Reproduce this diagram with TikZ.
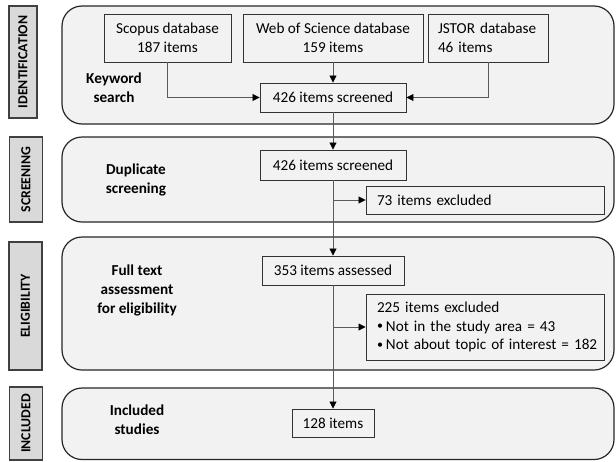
\documentclass[tikz,border=0pt]{standalone}
\usepackage{fontspec}
\setmainfont{Carlito}
\usetikzlibrary{arrows.meta}
\definecolor{panelfill}{HTML}{F2F2F2}
\definecolor{sidefill}{HTML}{D9D9D9}
\definecolor{linegray}{HTML}{5A5A5A}
\tikzset{
  panel/.style={draw=black!85, line width=1.2pt, fill=panelfill, rounded corners=20pt},
  sidebox/.style={draw=black!75, line width=1.1pt, fill=sidefill, rotate=90, inner sep=0pt,
     font=\fontsize{13.8}{15}\selectfont\bfseries},
  itembox/.style={draw=black!80, line width=0.9pt, inner sep=0pt, align=center,
     font=\fontsize{15.2}{18.5}\selectfont},
  leftbox/.style={itembox, align=left, text width=#1},
  phase/.style={align=center, font=\fontsize{15.2}{19}\selectfont\bfseries},
  conn/.style={draw=linegray, line width=0.8pt, -{Triangle[length=7pt,width=7pt,color=black]}},
}
\newcommand{\smbul}{{\fontsize{12}{12}\selectfont\raisebox{1.5pt}{•}}\hspace{3pt}}
\hfuzz=100pt
\begin{document}
\begin{tikzpicture}[x=1pt,y=-1pt]
\useasboundingbox (0,0) rectangle (616,461);
% panels
\draw[panel] (62,6) rectangle (614,124);
\draw[panel] (62,137) rectangle (614,222);
\draw[panel] (62,237) rectangle (614,370);
\draw[panel] (62,388) rectangle (614,459.5);
% side labels
\node[sidebox, minimum width=112pt, minimum height=28pt] (sid) at (23,62) {IDENTIFICATION};
\node[sidebox, minimum width=85pt, minimum height=33pt] (sscr) at (26,179.5) {SCREENING};
\node[sidebox, minimum width=128pt, minimum height=33pt] (selig) at (25.5,306) {ELIGIBILITY};
\node[sidebox, minimum width=73pt, minimum height=33pt] (sinc) at (26,423.5) {INCLUDED};
% phase texts
\node[phase] (pkw) at (114,88) {Keyword\\search};
\node[phase] (pdup) at (136,180) {Duplicate\\screening};
\node[phase] (pfull) at (137,290) {Full text\\assessment\\for eligibility};
\node[phase] (pinc) at (137,420) {Included\\studies};
% item boxes
\node[itembox, minimum width=127pt, minimum height=48pt] (scopus) at (167.5,38) {Scopus database\\187 items};
\node[itembox, minimum width=180pt, minimum height=48pt] (wos) at (333,38) {Web of Science database\\159 items};
\node[leftbox=100pt, minimum width=120pt, minimum height=48pt] (jstor) at (488,38) {\mbox{JSTOR database}\\46 items};
\node[itembox, minimum width=146pt, minimum height=29pt] (s1) at (333,97.5) {426 items screened};
\node[itembox, minimum width=146pt, minimum height=30pt] (s2) at (333,165) {426 items screened};
\node[leftbox=216pt, minimum width=238pt, minimum height=28pt] (ex73) at (485,200) {73 items excluded};
\node[itembox, minimum width=142pt, minimum height=29pt] (a353) at (333,270.5) {353 items assessed};
\node[leftbox=216pt, minimum width=238pt, minimum height=66pt] (ex225) at (485,327) {225 items excluded\\\mbox{\smbul Not in the study area = 43}\\\mbox{\smbul Not about topic of interest = 182}};
\node[itembox, minimum width=82pt, minimum height=28pt] (i128) at (333,423) {128 items};
% connectors
\draw[conn] (scopus.south) |- (s1.west);
\draw[conn] (jstor.south) |- (s1.east);
\draw[conn] (wos.south) -- (s1.north);
\draw[conn] (s1.south) -- (s2.north);
\draw[conn] (s2.south) -- (a353.north);
\draw[conn] (s2.south |- ex73.west) -- (ex73.west);
\draw[conn] (a353.south) -- (i128.north);
\draw[conn] (a353.south |- ex225.west) -- (ex225.west);
\end{tikzpicture}
\end{document}
